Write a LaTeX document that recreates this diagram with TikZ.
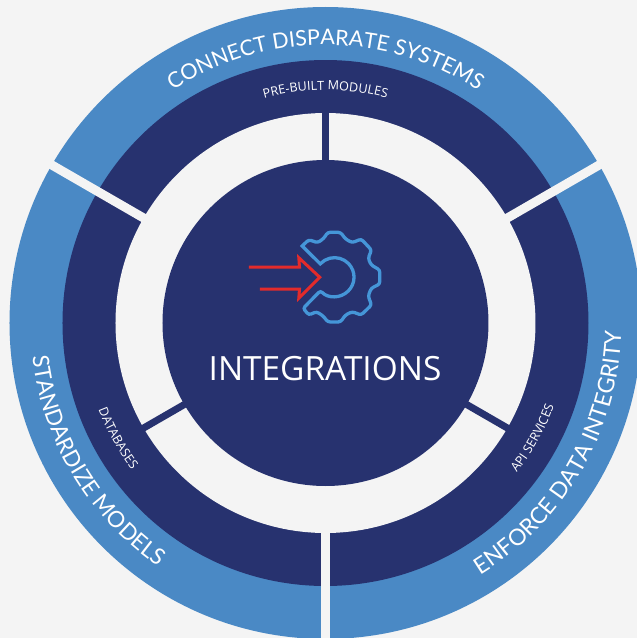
\documentclass[tikz,border=0pt]{standalone}
\usepackage{fontspec}
\setmainfont{Open Sans}
\usetikzlibrary{decorations.text}
\definecolor{pageback}{HTML}{F4F4F4}
\definecolor{ringblue}{HTML}{4A89C5}
\definecolor{ringnavy}{HTML}{27326F}
\definecolor{gearblue}{HTML}{4596D8}
\definecolor{arrowred}{HTML}{E32B2B}
\newfontfamily\ringfont{Lato}
\tikzset{
  disc/.style={fill=#1,draw=none},
  gapline/.style={draw=pageback,line width=9pt},
  spoke/.style={draw=ringnavy,line width=7pt},
  outerlabel/.style 2 args={decorate,decoration={text along path,text align=center,
    text={|\fontsize{#1}{#1}\ringfont\color{white}|#2}}},
  innerlabel/.style={decorate,decoration={text along path,text align=center,
    text={|\fontsize{12.6}{12.6}\selectfont\color{white}|#1}}}
}
\begin{document}
\begin{tikzpicture}[x=1pt,y=1pt]
  \clip (-325.5,-315) rectangle (311.5,323);
  \fill[pageback] (-325.5,-315) rectangle (311.5,323);

  % rings, from the outside in
  \path[disc=ringblue]  (0,0) circle [radius=316];
  \path[disc=ringnavy]  (0,0) circle [radius=263];
  \path[disc=pageback]  (0,0) circle [radius=210];

  % spokes and gaps
  \foreach \ang in {90,210,330}
    \draw[spoke] (\ang:160) -- (\ang:212);
  \foreach \ang in {30,150,270}
    \draw[gapline] (\ang:209) -- (\ang:330);
  \path[disc=ringnavy]  (0,0) circle [radius=163];

  \path[outerlabel={21.5}{CONNECT DISPARATE SYSTEMS}]
    (124:278) arc [start angle=124,end angle=56,radius=278];
  \path[outerlabel={22.5}{STANDARDIZE MODELS}]
    (181:295) arc [start angle=181,end angle=241,radius=295];
  \path[outerlabel={22.8}{ENFORCE DATA INTEGRITY}]
    (-62:296) arc [start angle=-62,end angle=2,radius=296];

  \path[innerlabel={PRE-BUILT MODULES}]
    (110:233) arc [start angle=110,end angle=70,radius=233];
  \path[innerlabel={DATABASES}]
    (189:243) arc [start angle=189,end angle=229,radius=243];
  \path[innerlabel={API SERVICES}]
    (-49:243) arc [start angle=-49,end angle=-9,radius=243];

  \node[text=white,font=\fontsize{33.4}{33.4}\selectfont,inner sep=0pt] (title) at (-0.5,-46) {INTEGRATIONS};

  % gear, open on the left
  \draw[gearblue,line width=3.3pt,rounded corners=2.5pt]
    (-23.3,77) -- (-16.7,83.3) -- (-7.7,80.3) -- (-1.7,84.7) -- (2.3,90.7)
    -- (15,90.7) -- (20,84) -- (26.7,80.3) -- (35.7,84) -- (46,73)
    -- (42.7,64.7) -- (45.7,58) -- (54.3,53) -- (54.3,39) -- (45.7,34.7)
    -- (42.7,27) -- (46,18) -- (35.7,8) -- (26.7,11.3) -- (20,8)
    -- (15,1) -- (2.3,1) -- (-2.3,7) -- (-9,11.3) -- (-16.7,8)
    -- (-22.3,14.7) -- (-5,32.3) [sharp corners]
    arc [start angle=-136,end angle=137,radius=19.5] -- cycle;

  % arrow
  \draw[arrowred,line width=3pt,miter limit=10]
    (-76.7,56) -- (-26,56) -- (-26.7,65.3) -- (-5.7,45.7) -- (-26.7,24.7)
    -- (-26,34) -- (-65.7,34);
\end{tikzpicture}
\end{document}
